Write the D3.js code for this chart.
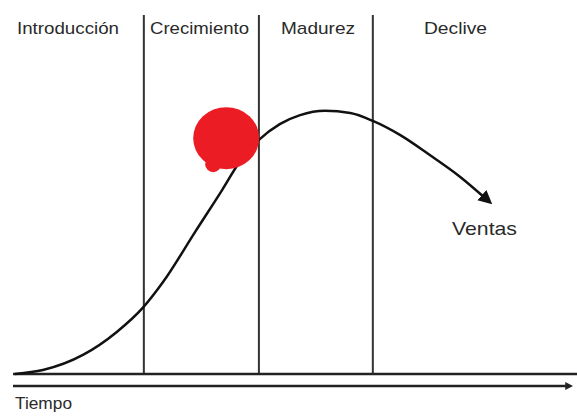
<!DOCTYPE html>
<html>
<head>
<meta charset="utf-8">
<script src="https://cdn.jsdelivr.net/npm/d3@7"></script>
<style>
  body { margin: 0; background: #fff; }
  text { font-family: "Liberation Sans", Arial, sans-serif; fill: #2a2a2a; }
</style>
</head>
<body>
<div id="chart"></div>
<script>
const width = 577, height = 416;

// phases of the product life cycle
const phases = ["Introducción", "Crecimiento", "Madurez", "Declive"];
// phase boundaries on the time axis (0-100)
const phaseBreaks = [23.2, 43.6, 63.8];

// sales curve (time 0-100, sales 0-100)
const time  = [0.35, 5.3, 12.4, 18.4, 23.0, 26.6, 32.3, 37.1, 40.2, 43.6, 47.3, 50.9, 55.3, 59.8, 63.8, 68.6, 73.9, 79.3, 83.5];
const sales = [0,    1.1, 5.3,  11.7, 18.4, 25.6, 39.6, 51.3, 59.1, 65.2, 69.6, 72.1, 73.3, 72.7, 70.5, 66.6, 61.0, 54.9, 49.3];

// red mark on the curve
const markTime = 37.8, markSales = 65.7;

const svg = d3.select("#chart").append("svg")
  .attr("width", width)
  .attr("height", height);

const x = d3.scaleLinear().domain([0, 100]).range([13, 577]);
const y = d3.scaleLinear().domain([0, 100]).range([374, 15]);

const defs = svg.append("defs");
defs.append("marker")
  .attr("id", "arrow")
  .attr("viewBox", "0 0 10 10")
  .attr("refX", 2).attr("refY", 5)
  .attr("markerWidth", 5.5).attr("markerHeight", 5.5)
  .attr("orient", "auto")
  .append("path")
  .attr("d", "M0,0 L10,5 L0,10 z")
  .attr("fill", "#111");

defs.append("marker")
  .attr("id", "arrowAxis")
  .attr("viewBox", "0 0 10 10")
  .attr("refX", 2).attr("refY", 5)
  .attr("markerWidth", 3.2).attr("markerHeight", 3.2)
  .attr("orient", "auto")
  .append("path")
  .attr("d", "M0,0 L10,5 L0,10 z")
  .attr("fill", "#222");

// vertical phase separators
svg.selectAll(".sep")
  .data(phaseBreaks)
  .join("line")
  .attr("class", "sep")
  .attr("x1", d => x(d)).attr("x2", d => x(d))
  .attr("y1", y(100)).attr("y2", y(0))
  .attr("stroke", "#333")
  .attr("stroke-width", 2);

// baseline
svg.append("line")
  .attr("x1", x(0)).attr("x2", x(100))
  .attr("y1", y(0)).attr("y2", y(0))
  .attr("stroke", "#222")
  .attr("stroke-width", 2.5);

// time arrow below the baseline
svg.append("line")
  .attr("x1", x(0)).attr("x2", x(98.2))
  .attr("y1", y(0) + 12).attr("y2", y(0) + 12)
  .attr("stroke", "#222")
  .attr("stroke-width", 2.5)
  .attr("marker-end", "url(#arrowAxis)");

// sales curve
const line = d3.line()
  .x((d, i) => x(time[i]))
  .y(d => y(d))
  .curve(d3.curveMonotoneX);

svg.append("path")
  .datum(sales)
  .attr("fill", "none")
  .attr("stroke", "#111")
  .attr("stroke-width", 2.5)
  .attr("marker-end", "url(#arrow)")
  .attr("d", line);

// red blob
const blob = svg.append("g").attr("fill", "#ec1c24");
blob.append("ellipse")
  .attr("cx", x(markTime)).attr("cy", y(markSales))
  .attr("rx", 33).attr("ry", 31);
blob.append("ellipse")
  .attr("cx", x(markTime) - 13).attr("cy", y(markSales) + 26)
  .attr("rx", 8).attr("ry", 8);

// phase labels
const labelLayout = [
  { x: 17, len: 102 },
  { x: 150, len: 99 },
  { x: 281, len: 74 },
  { x: 424, len: 63 }
];
svg.selectAll(".phase")
  .data(phases)
  .join("text")
  .attr("class", "phase")
  .attr("x", (d, i) => labelLayout[i].x)
  .attr("y", 34)
  .attr("font-size", "17px")
  .attr("textLength", (d, i) => labelLayout[i].len)
  .attr("lengthAdjust", "spacingAndGlyphs")
  .text(d => d);

svg.append("text")
  .attr("x", 452).attr("y", 235)
  .attr("font-size", "19px")
  .attr("textLength", 65)
  .attr("lengthAdjust", "spacingAndGlyphs")
  .text("Ventas");

svg.append("text")
  .attr("x", 15).attr("y", 409)
  .attr("font-size", "17px")
  .attr("textLength", 57)
  .attr("lengthAdjust", "spacingAndGlyphs")
  .text("Tiempo");
</script>
</body>
</html>
